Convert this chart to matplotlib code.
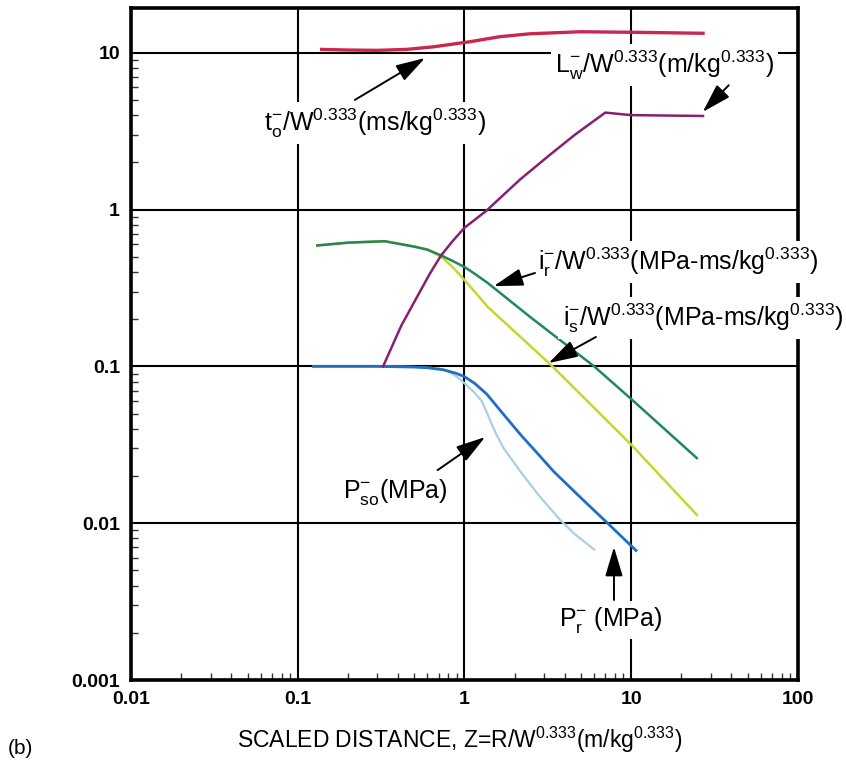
import numpy as np
import matplotlib
matplotlib.use("Agg")
import matplotlib.pyplot as plt
from matplotlib.ticker import FixedLocator, FixedFormatter, LogLocator, NullFormatter

plt.rcParams['font.family'] = ['Liberation Sans', 'DejaVu Sans']
plt.rcParams['mathtext.default'] = 'regular'

# scaled distance Z (m/kg^0.333) and values
to_z = [0.139, 0.2, 0.3, 0.45, 0.65, 1.08, 1.63, 2.47, 4.93, 10, 27]
to_v = [10.5, 10.4, 10.35, 10.5, 10.9, 11.75, 12.65, 13.2, 13.6, 13.5, 13.3]

lw_z = [0.325, 0.418, 0.526, 0.62, 0.724, 0.85, 1.0, 1.35, 2.15, 3.2, 4.6, 7.0, 10, 27]
lw_v = [0.1, 0.182, 0.284, 0.39, 0.51, 0.63, 0.765, 0.98, 1.55, 2.2, 3.0, 4.15, 4.0, 3.95]

ir_z = [0.131, 0.2, 0.333, 0.5, 0.6, 0.724, 0.85, 1.0, 1.15, 1.38, 2.5, 6.0, 10, 24.8]
ir_v = [0.59, 0.615, 0.628, 0.58, 0.555, 0.51, 0.47, 0.43, 0.39, 0.34, 0.205, 0.1, 0.062, 0.026]

is_z = [0.131, 0.2, 0.333, 0.5, 0.6, 0.724, 0.85, 1.0, 1.15, 1.38, 2.2, 3.37, 10, 24.8]
is_v = [0.59, 0.615, 0.628, 0.58, 0.555, 0.5, 0.43, 0.355, 0.3, 0.239, 0.152, 0.1, 0.0317, 0.0113]

pr_z = [0.124, 0.3, 0.5, 0.6, 0.75, 0.9, 1.0, 1.15, 1.36, 1.7, 2.17, 2.8, 3.44, 5.0, 7.23, 10.7]
pr_v = [0.1, 0.1, 0.099, 0.098, 0.095, 0.09, 0.086, 0.078, 0.0666, 0.05, 0.0367, 0.0272, 0.0213,
        0.0145, 0.01, 0.0067]

pso_z = [0.124, 0.3, 0.5, 0.71, 0.8, 0.9, 1.0, 1.15, 1.27, 1.35, 1.43, 1.55, 1.72, 2.17, 2.8,
         3.78, 4.6, 6.0]
pso_v = [0.1, 0.1, 0.099, 0.097, 0.093, 0.086, 0.078, 0.068, 0.06, 0.052, 0.0449, 0.037, 0.03,
         0.0213, 0.015, 0.0104, 0.0085, 0.0068]

x_ticks = [0.01, 0.1, 1, 10, 100]
x_labels = ['0.01', '0.1', '1', '10', '100']
y_ticks = [0.001, 0.01, 0.1, 1, 10]
y_labels = ['0.001', '0.01', '0.1', '1', '10']

fig = plt.figure(figsize=(8.46, 7.69), dpi=100)
ax = fig.add_axes([0.155, 0.1157, 0.788, 0.874])
ax.set_xscale('log')
ax.set_yscale('log')
ax.set_xlim(0.01, 100)
ax.set_ylim(0.001, 19.3)

ax.plot(pso_z, pso_v, color='#a9cfe6', lw=1.6, zorder=3)
ax.plot(pr_z, pr_v, color='#1f6fc2', lw=2.0, zorder=3)
ax.plot(is_z, is_v, color='#c9d42c', lw=1.8, zorder=3)
ax.plot(ir_z, ir_v, color='#22875a', lw=1.8, zorder=3)
ax.plot(lw_z, lw_v, color='#8a1f6e', lw=1.8, zorder=3)
ax.plot(to_z, to_v, color='#c9284e', lw=2.4, zorder=3)

ax.xaxis.set_major_locator(FixedLocator(x_ticks))
ax.xaxis.set_major_formatter(FixedFormatter(x_labels))
ax.yaxis.set_major_locator(FixedLocator(y_ticks))
ax.yaxis.set_major_formatter(FixedFormatter(y_labels))
ax.xaxis.set_minor_locator(LogLocator(base=10, subs=np.arange(2, 10)))
ax.yaxis.set_minor_locator(LogLocator(base=10, subs=np.arange(2, 10)))
ax.xaxis.set_minor_formatter(NullFormatter())
ax.yaxis.set_minor_formatter(NullFormatter())
ax.tick_params(which='major', length=0, labelsize=14, pad=8)
ax.tick_params(which='minor', direction='in', length=5, width=1, color='#333333')
for t in ax.get_xticklabels() + ax.get_yticklabels():
    t.set_fontweight('bold')

ax.grid(which='major', color='black', lw=1.5, zorder=1)
for s in ax.spines.values():
    s.set_linewidth(2.6)

box = dict(facecolor='white', edgecolor='none', pad=3)
arrow = dict(arrowstyle='-|>,head_width=0.3,head_length=1.0', color='black', lw=1.4,
             mutation_scale=18, shrinkA=0, shrinkB=0)
fs = 18

ax.text(0.29, 3.56, r'$t_{o}^{-}$/W$^{0.333}$(ms/kg$^{0.333}$)', fontsize=fs,
        ha='center', va='center', bbox=box, zorder=5)
ax.annotate('', xy=(0.58, 9.25), xytext=(0.22, 5.0), arrowprops=arrow, zorder=6)

ax.text(15.9, 8.35, r'$L_{w}^{-}$/W$^{0.333}$(m/kg$^{0.333}$)', fontsize=fs,
        ha='center', va='center', bbox=box, zorder=5)
ax.annotate('', xy=(26.9, 4.19), xytext=(38.5, 6.2), arrowprops=arrow, zorder=6)

ax.text(19.1, 0.462, r'$i_{r}^{-}$/W$^{0.333}$(MPa-ms/kg$^{0.333}$)', fontsize=fs,
        ha='center', va='center', bbox=box, zorder=5, clip_on=False)
ax.annotate('', xy=(1.5, 0.325), xytext=(2.65, 0.394), arrowprops=arrow, zorder=6)

ax.text(26.9, 0.203, r'$i_{s}^{-}$/W$^{0.333}$(MPa-ms/kg$^{0.333}$)', fontsize=fs,
        ha='center', va='center', bbox=box, zorder=5, clip_on=False)
ax.annotate('', xy=(3.2, 0.105), xytext=(6.15, 0.154), arrowprops=arrow, zorder=6)

ax.text(0.383, 0.0158, r'$P_{so}^{-}$(MPa)', fontsize=fs,
        ha='center', va='center', bbox=box, zorder=5)
ax.annotate('', xy=(1.33, 0.0354), xytext=(0.69, 0.0218), arrowprops=arrow, zorder=6)

ax.text(7.57, 0.00241, r'$P_{r}^{-}$ (MPa)', fontsize=fs,
        ha='center', va='center', bbox=box, zorder=5)
ax.annotate('', xy=(7.89, 0.00705), xytext=(7.89, 0.00324), arrowprops=arrow, zorder=6)

fig.text(460 / 846, 1 - 740 / 769, r'SCALED DISTANCE, Z=R/W$^{0.333}$(m/kg$^{0.333}$)',
         fontsize=16.5, ha='center', va='center')
fig.text(8 / 846, 1 - 748 / 769, '(b)', fontsize=15, ha='left', va='center')

fig.savefig('out.png', dpi=100)
